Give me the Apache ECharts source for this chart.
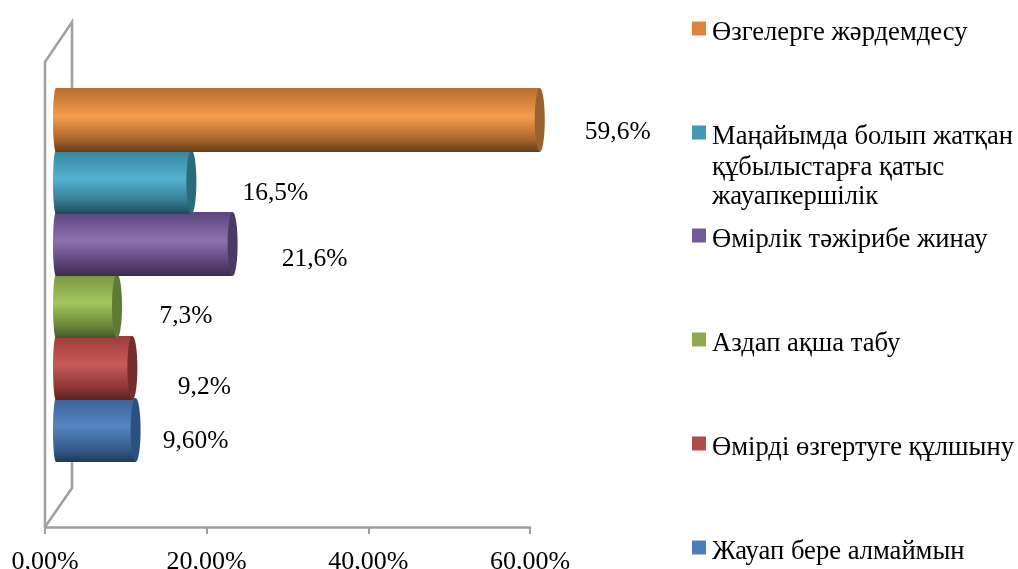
<!DOCTYPE html>
<html>
<head>
<meta charset="utf-8">
<style>
  html, body { margin: 0; padding: 0; background: #fff; }
  #chart { width: 1018px; height: 569px; }
</style>
<script src="https://cdn.jsdelivr.net/npm/echarts@6/dist/echarts.min.js"></script>
</head>
<body>
<div id="chart"></div>
<script>
// bottom to top, as the category axis runs
const categories = [
  "Жауап бере алмаймын",
  "Өмірді өзгертуге құлшыну",
  "Аздап ақша табу",
  "Өмірлік тәжірибе жинау",
  "Маңайымда болып жатқан",
  "Өзгелерге жәрдемдесу",
];
const values = [9.6, 9.2, 7.3, 21.6, 16.5, 59.6];
const valueLabels = ["9,60%", "9,2%", "7,3%", "21,6%", "16,5%", "59,6%"];
const extraLegendLines = ["құбылыстарға қатыс", "жауапкершілік"];

// cylinder shading: top, highlight, lower, bottom, end cap
const shades = [
  ["#38639a", "#5585bf", "#355c8b", "#1f3a5c", "#2a5180"],
  ["#9c3c3a", "#c85b58", "#8e3634", "#5a2220", "#752e2d"],
  ["#779640", "#a4c65e", "#6c883a", "#455824", "#5f7a34"],
  ["#5b4480", "#8e71ad", "#584276", "#3c2d50", "#4c3a66"],
  ["#35849c", "#54b2d0", "#337a91", "#1e4a58", "#2b6b7e"],
  ["#b56f30", "#f79b4d", "#aa662b", "#653a16", "#9a6030"],
];
const legendColors = ["#4a7ebb", "#b04d4a", "#8fab4f", "#735a96", "#4299b4", "#e0843d"];
const legendTops = [539, 435, 331, 227, 124, 20];

// where each value label sits relative to the end of its bar
const labelShiftX = [55, 67, 64, 77, 79, 73];
const labelShiftY = [11, 19, 10, 15, 11, 12];

const FONT = '"Liberation Serif", "Times New Roman", serif';
const LABEL_SIZE = 25.5;
const TICK_SIZE = 26;
const LEGEND_SIZE = 26.6;
const DEPTH_X = 13; // bars stand this far behind the front of the axis
const CAP_RX = 5;
const BACK_RX = 3;

const chart = echarts.init(document.getElementById("chart"));

const renderCylinder = (index) => (params, api) => {
  const start = api.coord([0, api.value(1)]);
  const end = api.coord([api.value(0), api.value(1)]);
  const height = api.size([0, 1])[1] * 1.03;
  const x0 = start[0] + DEPTH_X - 2;
  const x1 = end[0] + DEPTH_X;
  const cy = start[1];
  const c = shades[index];
  const body = new echarts.graphic.LinearGradient(0, 0, 0, 1, [
    { offset: 0, color: c[0] },
    { offset: 0.45, color: c[1] },
    { offset: 0.8, color: c[2] },
    { offset: 1, color: c[3] },
  ]);
  return {
    type: "group",
    children: [
      {
        type: "ellipse",
        shape: { cx: x0, cy: cy, rx: BACK_RX, ry: height / 2 },
        style: { fill: body },
      },
      {
        type: "rect",
        shape: { x: x0, y: cy - height / 2, width: x1 - x0, height: height },
        style: { fill: body },
      },
      {
        type: "ellipse",
        shape: { cx: x1, cy: cy, rx: CAP_RX, ry: height / 2 },
        style: { fill: c[4] },
      },
      {
        type: "text",
        style: {
          x: x1 + CAP_RX + labelShiftX[index],
          y: cy + labelShiftY[index],
          text: valueLabels[index],
          fill: "#000",
          font: `${LABEL_SIZE}px ${FONT}`,
          align: "center",
          verticalAlign: "middle",
        },
      },
    ],
  };
};

const option = {
  animation: false,
  backgroundColor: "#fff",
  // tick labels run off the bottom edge in the picture, keep the grid where it is
  grid: { left: 45, top: 89, width: 485, height: 372, outerBoundsMode: "none" },
  xAxis: {
    type: "value",
    min: 0,
    max: 60,
    interval: 20,
    offset: 66,
    splitLine: { show: false },
    axisLine: { show: true, lineStyle: { color: "#a0a0a0", width: 2.5 } },
    axisTick: { show: true, length: 7, lineStyle: { color: "#a0a0a0", width: 2 } },
    axisLabel: {
      color: "#000",
      fontFamily: FONT,
      fontSize: TICK_SIZE,
      margin: 22,
      formatter: (v) => v.toFixed(2).replace(".", ",") + "%",
    },
  },
  yAxis: { type: "category", data: categories, show: false },
  // one legend per entry, the gaps in the picture are not even
  legend: categories.map((name, i) => ({
    data: [name],
    left: 692,
    top: legendTops[i],
    padding: 0,
    itemWidth: 14,
    itemHeight: 14,
    itemGap: 0,
    icon: "rect",
    selectedMode: false,
    formatter: (n) => `{t|${n}}`,
    textStyle: {
      rich: {
        // text hangs a little lower than its marker
        t: { color: "#000", fontFamily: FONT, fontSize: LEGEND_SIZE, padding: [10, 0, 0, 1] },
      },
    },
  })),
  series: categories.map((name, i) => ({
    type: "custom",
    name: name,
    itemStyle: { color: legendColors[i] },
    data: [[values[i], i]],
    encode: { x: 0, y: 1 },
    renderItem: renderCylinder(i),
  })),
  // 3D side wall behind the bars
  graphic: [
    {
      type: "polyline",
      z: 0,
      silent: true,
      shape: { points: [[45, 527], [45, 62], [72, 22], [72, 488], [45, 527]] },
      style: { stroke: "#a0a0a0", lineWidth: 2.5, fill: null },
    },
    ...extraLegendLines.map((line, i) => ({
      type: "text",
      left: 712,
      top: 155 + i * 29,
      style: { text: line, fill: "#000", font: `${LEGEND_SIZE}px ${FONT}` },
    })),
  ],
};

chart.setOption(option);
</script>
</body>
</html>
